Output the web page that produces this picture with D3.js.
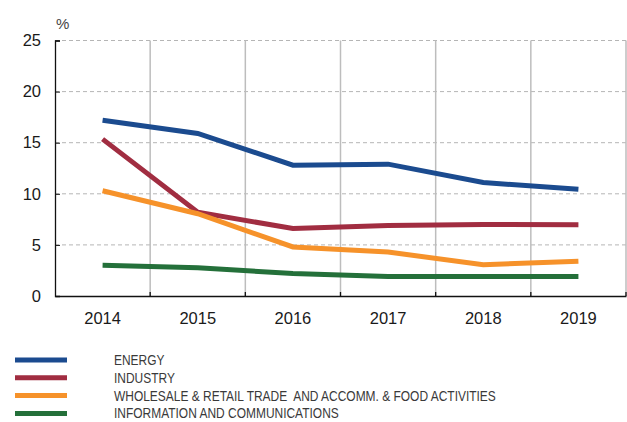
<!DOCTYPE html>
<html>
<head>
<meta charset="UTF-8">
<script src="https://d3js.org/d3.v7.min.js"></script>
<style>
  body { margin: 0; background: #fff; }
  svg { display: block; font-family: "Liberation Sans", Arial, sans-serif; }
  .legend text { white-space: pre; }
</style>
</head>
<body>
<svg width="627" height="422"></svg>
<script>
const years = ['2014', '2015', '2016', '2017', '2018', '2019'];
const energy = [17.2, 15.9, 12.8, 12.9, 11.1, 10.45];
const industry = [15.35, 8.2, 6.6, 6.9, 7.0, 6.97];
const wholesale = [10.3, 8.05, 4.8, 4.3, 3.06, 3.4];
const ict = [3.0, 2.77, 2.2, 1.92, 1.92, 1.92];
const yTicks = [0, 5, 10, 15, 20, 25];

const series = [
  {name: 'ENERGY', values: energy, color: '#1b4b8f'},
  {name: 'INDUSTRY', values: industry, color: '#a12d41'},
  {name: 'WHOLESALE & RETAIL TRADE  AND ACCOMM. & FOOD ACTIVITIES', values: wholesale, color: '#f6922a'},
  {name: 'INFORMATION AND COMMUNICATIONS', values: ict, color: '#24703a'}
];

const margin = {top: 40.5, left: 55, right: 1, bottom: 126};
const width = 627, height = 422;

const x = d3.scaleBand()
  .domain(years)
  .range([margin.left, width - margin.right]);

const y = d3.scaleLinear()
  .domain([0, 25])
  .range([height - margin.bottom, margin.top]);

const svg = d3.select('svg');

// horizontal dashed grid
svg.append('g')
  .selectAll('line').data(yTicks.filter(d => d > 0)).enter().append('line')
  .attr('x1', margin.left).attr('x2', width - margin.right)
  .attr('y1', d => y(d)).attr('y2', d => y(d))
  .attr('stroke', '#b5b5b5')
  .attr('stroke-dasharray', '4,3');

// vertical grid at band edges
const edges = years.map(d => x(d) + x.bandwidth());
svg.append('g')
  .selectAll('line').data(edges).enter().append('line')
  .attr('x1', d => d).attr('x2', d => d)
  .attr('y1', y(25)).attr('y2', y(0))
  .attr('stroke', '#bdbdbd')
  .attr('stroke-width', 1.5);

// axes
svg.append('g')
  .attr('transform', `translate(${margin.left},0)`)
  .call(d3.axisLeft(y).tickValues(yTicks).tickSize(-5).tickPadding(14))
  .call(g => g.select('.domain').attr('stroke', '#111').attr('stroke-width', 1.3))
  .call(g => g.selectAll('.tick line').attr('stroke', '#111'))
  .call(g => g.selectAll('.tick text').attr('font-size', 16.5).attr('fill', '#1a1a1a').attr('font-family', 'Liberation Sans, Arial, sans-serif'));

svg.append('g')
  .attr('transform', `translate(0,${y(0)})`)
  .call(d3.axisBottom(x).tickSize(0).tickPadding(16).tickSizeOuter(0))
  .call(g => g.select('.domain').attr('stroke', '#111').attr('stroke-width', 1.3))
  .call(g => g.selectAll('.tick text').attr('font-size', 16.5).attr('fill', '#1a1a1a').attr('font-family', 'Liberation Sans, Arial, sans-serif'));

// ticks on x axis at band edges
svg.append('g')
  .selectAll('line').data(edges).enter().append('line')
  .attr('x1', d => d).attr('x2', d => d)
  .attr('y1', y(0) - 4).attr('y2', y(0))
  .attr('stroke', '#111').attr('stroke-width', 1.3);

svg.append('text')
  .attr('x', 56).attr('y', 29)
  .attr('font-size', 15)
  .attr('fill', '#444')
  .text('%');

// lines
const line = d3.line()
  .x((d, i) => x(years[i]) + x.bandwidth() / 2)
  .y(d => y(d));

svg.append('g')
  .selectAll('path').data(series).enter().append('path')
  .attr('d', d => line(d.values))
  .attr('fill', 'none')
  .attr('stroke', d => d.color)
  .attr('stroke-width', 5);

// legend
const legend = svg.append('g').attr('class', 'legend')
  .selectAll('g').data(series).enter().append('g')
  .attr('transform', (d, i) => `translate(15,${360 + i * 17.8})`);

legend.append('line')
  .attr('x1', 0).attr('x2', 52)
  .attr('stroke', d => d.color)
  .attr('stroke-width', 5);

const labels = legend.append('text')
  .attr('font-size', 14)
  .attr('fill', '#3a3a3a')
  .text(d => d.name);

// condensed look: squeeze so the longest label spans ~382px
const longest = d3.max(labels.nodes(), n => n.getComputedTextLength());
const sx = 382 / longest;
labels.attr('transform', `translate(99,5) scale(${sx},1)`);
</script>
</body>
</html>
